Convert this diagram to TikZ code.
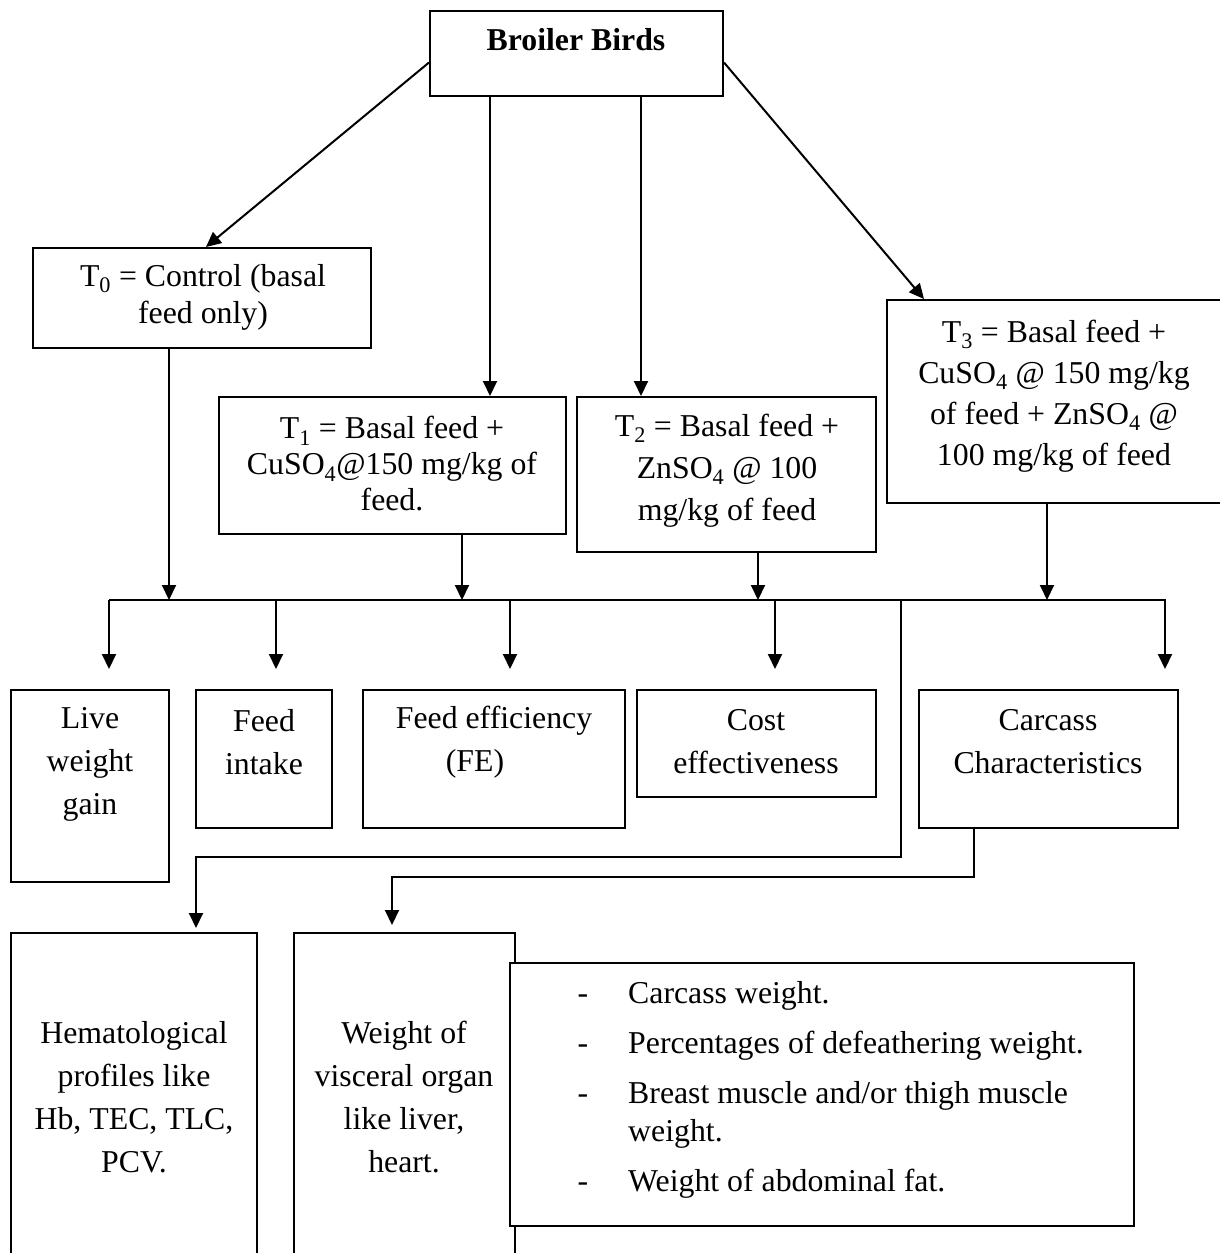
\documentclass[tikz,border=0pt]{standalone}
\usepackage{fontspec}
\setmainfont{Liberation Serif}
\usetikzlibrary{arrows.meta,fit}
\begin{document}
\begin{tikzpicture}[x=1pt,y=-1pt,
  box/.style={draw, line width=2pt, inner sep=0pt, fill=white},
  txt/.style={font=\fontsize{31.8pt}{#1}\selectfont, align=center, inner sep=0pt},
  txt/.default=43pt,
  ltxt/.style={font=\fontsize{31.8pt}{#1}\selectfont, align=left, inner sep=0pt, anchor=west},
  ltxt/.default=38pt,
  arr/.style={line width=2pt, -{Triangle[length=15pt,width=14pt]}},
  busline/.style={line width=2.2pt}]
\useasboundingbox (0,0) rectangle (1219,1253);
\fill[white] (0,0) rectangle (1219,1253);

% ---- boxes ----
\node[box, fit={(430,11)(723,96)}] (bb) {};
\node[box, fit={(33,248)(371,348)}] (t0) {};
\node[box, fit={(219,397)(566,534)}] (t1) {};
\node[box, fit={(577,397)(876,552)}] (t2) {};
\node[box, fit={(887,300)(1226,503)}] (t3) {};
\node[box, fit={(11,690)(169,882)}] (lwg) {};
\node[box, fit={(196,690)(332,828)}] (fi) {};
\node[box, fit={(363,690)(625,828)}] (fe) {};
\node[box, fit={(637,690)(876,797)}] (ce) {};
\node[box, fit={(919,690)(1178,828)}] (car) {};
\node[box, fit={(11,933)(257,1270)}] (hem) {};
\node[box, fit={(294,933)(515,1270)}] (vis) {};

% ---- texts ----
\node[txt, font=\fontsize{31.8pt}{43pt}\selectfont\bfseries] (bbt) at (576,40) {Broiler Birds};
\node[txt=37pt] (t0t) at (203,297) {T\textsubscript{0} = Control (basal\\feed only)};
\node[txt=36pt] (t1t) at (392,464) {T\textsubscript{1} = Basal feed +\\CuSO\textsubscript{4}@150 mg/kg of\\feed.};
\node[txt=42pt] (t2t) at (727,471) {T\textsubscript{2} = Basal feed +\\ZnSO\textsubscript{4} @ 100\\mg/kg of feed};
\node[txt=41pt] (t3t) at (1054,396) {T\textsubscript{3} = Basal feed +\\CuSO\textsubscript{4} @ 150 mg/kg\\of feed + ZnSO\textsubscript{4} @\\100 mg/kg of feed};
\node[txt] (lwgt) at (90,764) {Live\\weight\\gain};
\node[txt] (fit) at (264,742) {Feed\\intake};
\node[txt] (fet) at (494,742) {Feed efficiency\\(FE)\hspace*{38pt}};
\node[txt] (cet) at (756,742) {Cost\\effectiveness};
\node[txt] (cart) at (1048,742) {Carcass\\Characteristics};
\node[txt] (hemt) at (134,1097) {Hematological\\profiles like\\Hb, TEC, TLC,\\PCV.};
\node[txt] (vist) at (404,1097) {Weight of\\visceral organ\\like liver,\\heart.};

% ---- carcass list box (drawn over the visceral box) ----
\node[box, fit={(510,963)(1134,1226)}] (list) {};
\node[txt] (d1) at (583,999) {-};
\node[txt] (d2) at (583,1049) {-};
\node[txt] (d3) at (583,1099) {-};
\node[txt] (d4) at (583,1187) {-};
\node[ltxt] (i1) at (628,996) {Carcass weight.};
\node[ltxt] (i2) at (628,1046) {Percentages of defeathering weight.};
\node[ltxt] (i3) at (628,1115) {Breast muscle and/or thigh muscle\\weight.};
\node[ltxt] (i4) at (628,1184) {Weight of abdominal fat.};

% ---- lane coordinates ----
\coordinate (busL) at (109,600);
\coordinate (busR) at (1166,600);
\coordinate (xa) at (490,0);
\coordinate (xb) at (641,0);
\coordinate (x0) at (169,0);
\coordinate (x1) at (462,0);
\coordinate (x2) at (758,0);
\coordinate (x3) at (1047,0);
\coordinate (o1) at (109,669);
\coordinate (o2) at (276,669);
\coordinate (o3) at (510,669);
\coordinate (o4) at (775,669);
\coordinate (o5) at (1165,669);
\coordinate (h1) at (901,857);
\coordinate (htip) at (196,928);
\coordinate (c1) at (974,877);
\coordinate (vtip) at (392,925);

% ---- connectors from Broiler Birds ----
\draw[arr] ([yshift=-9pt]bb.west) -- ([xshift=4pt]t0.north);
\draw[arr] ([yshift=-9pt]bb.east) -- ([xshift=38pt]t3.north west);
\draw[arr] (xa |- bb.south) -- (xa |- t1.north);
\draw[arr] (xb |- bb.south) -- (xb |- t2.north);

% ---- into the bus ----
\draw[busline] (busL) -- (busR);
\draw[arr] (x0 |- t0.south) -- (x0 |- busL);
\draw[arr] (x1 |- t1.south) -- (x1 |- busL);
\draw[arr] (x2 |- t2.south) -- (x2 |- busL);
\draw[arr] (x3 |- t3.south) -- (x3 |- busL);

% ---- out of the bus ----
\draw[arr] (o1 |- busL) -- (o1);
\draw[arr] (o2 |- busL) -- (o2);
\draw[arr] (o3 |- busL) -- (o3);
\draw[arr] (o4 |- busL) -- (o4);
\draw[arr] (o5 |- busL) -- (o5);

% ---- to the lower boxes ----
\draw[arr] (h1 |- busL) -- (h1) -| (htip);
\draw[arr] (c1 |- car.south) -- (c1) -| (vtip);
\end{tikzpicture}
\end{document}
